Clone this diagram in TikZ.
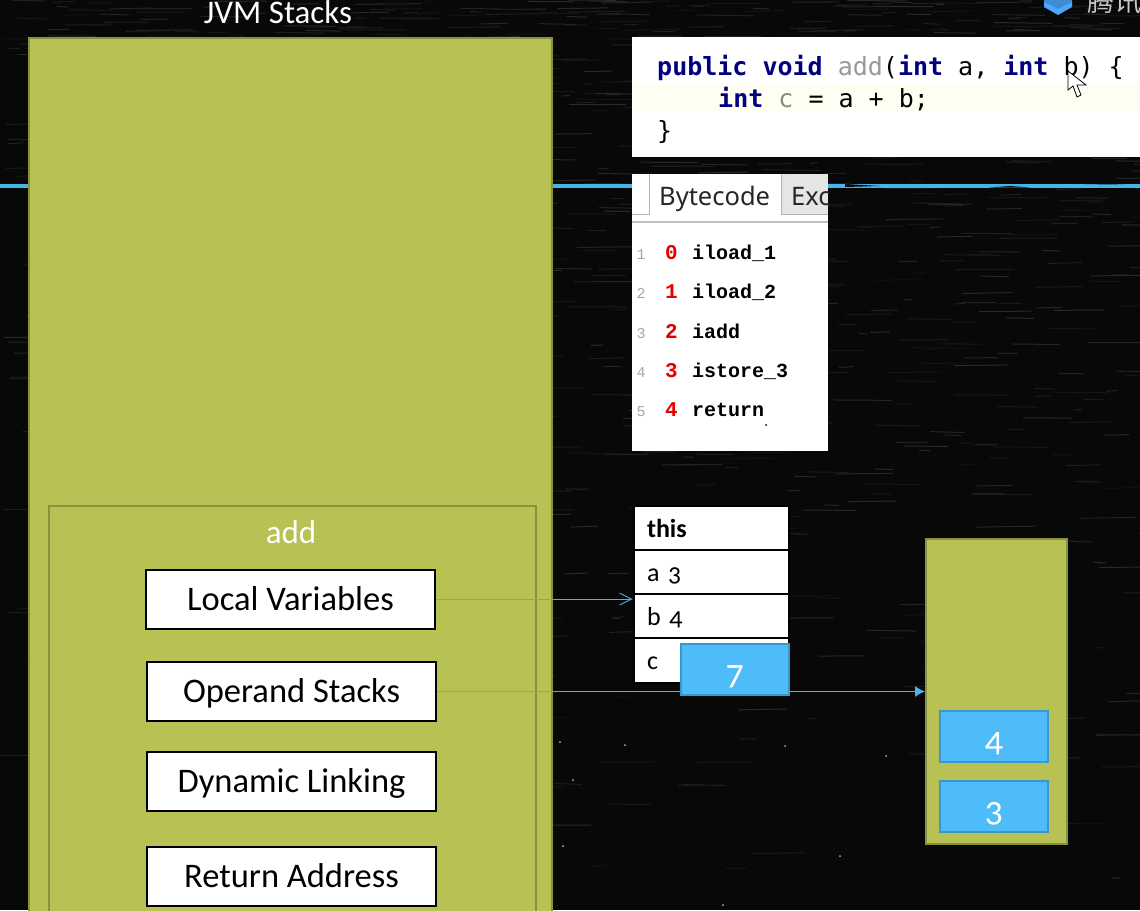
\documentclass[tikz,border=0pt]{standalone}
\usepackage{fontspec}
\setmainfont[Numbers=OldStyle]{Carlito}
\setmonofont{DejaVu Sans Mono}
\newfontfamily\bcfont{Liberation Mono}
\newfontfamily\tabfont{Noto Sans}
\newfontfamily\cjk{Noto Sans CJK SC}
\usetikzlibrary{arrows.meta}
\definecolor{boardbg}{HTML}{080808}
\definecolor{streak}{HTML}{2A2A2A}
\definecolor{olive}{HTML}{B8C153}
\definecolor{oliveline}{HTML}{89913A}
\definecolor{skyblue}{HTML}{4DBCF9}
\definecolor{skyline}{HTML}{3A98C8}
\definecolor{arrowblue}{HTML}{45B4E6}
\definecolor{kwblue}{HTML}{000080}
\definecolor{hilite}{HTML}{FFFEF2}
\newcommand{\fs}[1]{\fontsize{#1}{#1}\selectfont}
\tikzset{
	stackarea/.style = {draw = oliveline, fill = olive, line width = 2pt, inner sep = 0pt, anchor = north west},
	methodbox/.style = {draw = black, fill = white, line width = 2pt, minimum width = 289, minimum height = 59, inner sep = 0pt, font = \fs{34.5}, text height = 30, text depth = 8},
	slotrow/.style = {draw = black, fill = white, line width = 2pt, minimum width = 155, minimum height = 45, inner sep = 0pt, inner xsep = 13, text width = 128, align = left, font = \fs{26}, text height = 24, text depth = 6},
	valuebox/.style = {draw = skyline, fill = skyblue, line width = 1.5pt, minimum width = 108, minimum height = 51, inner sep = 0pt, text = white, font = \fs{36}, text height = 30, text depth = 0},
	whitepanel/.style = {fill = white, inner sep = 0pt, anchor = north west},
	codeline/.style = {anchor = base west, inner sep = 0pt, font = \ttfamily\fs{25}},
	bcline/.style = {anchor = base west, inner sep = 0pt, font = \bcfont\bfseries\fs{20}},
	bcnum/.style = {anchor = base west, inner sep = 0pt, font = \bcfont\bfseries\fs{21}, text = red!90!black},
	bcgutter/.style = {anchor = base, inner sep = 0pt, font = \bcfont\fs{15}, text = gray!70},
	refline/.style = {draw = arrowblue, line width = 0.9pt}
}
\begin{document}
\begin{tikzpicture}[x = 1pt, y = -1pt]
	\useasboundingbox (0, 0) rectangle (1140, 910);
	\clip (0, 0) rectangle (1140, 910);
	% Tafel
	\fill [boardbg] (0, 0) rectangle (1140, 910);
	\pgfmathsetseed{4711}
	\foreach \i in {1, ..., 1100} {
		\pgfmathsetmacro{\sx}{random(0, 1140)}
		\pgfmathsetmacro{\sy}{910 * rnd * rnd}
		\pgfmathsetmacro{\sl}{random(8, 60)}
		\pgfmathsetmacro{\sk}{random(25, 100)}
		\draw [streak!\sk!boardbg, line width = 1pt] (\sx, \sy) --++ (\sl, {rnd*2 - 1});
	}
	\foreach \sx/\sy in {560/742, 573/780, 625/745, 785/746, 886/756, 1000/622, 840/856, 563/846, 723/905} {
		\fill [gray!60] (\sx, \sy) circle (1);
	}
	% blue line
	\fill [arrowblue] (0, 183.5) rectangle (1140, 187.5);
	\fill [boardbg] (845, 184) -- (880, 186) -- (845, 187) -- cycle;
	\fill [boardbg] (990, 187.5) -- (1010, 186) -- (1030, 187.5) -- cycle;
	\fill [boardbg] (1060, 183.5) -- (1110, 184.5) -- (1140, 183.5) -- cycle;
	% Linker Kasten
	\node [stackarea, minimum width = 523, minimum height = 900] (jvmstack) at (28, 37) {};
	\node [text = white, font = \fs{33}, inner sep = 0pt] (jvmtitle) at (278, 12) {JVM Stacks};
	\node [stackarea, minimum width = 487, minimum height = 430] (frame) at (48, 505) {};
	\node [text = white, font = \fs{33}, inner sep = 0pt] (frametitle) at (291, 532) {add};
	\node [methodbox] (locvars) at (290.5, 599) {Local Variables};
	\node [methodbox] (opstack) at (291.5, 691.5) {Operand Stacks};
	\node [methodbox] (dynlink) at (291.5, 781.5) {Dynamic Linking};
	\node [methodbox] (retaddr) at (291.5, 876.5) {Return Address};
	% Code
	\node [whitepanel, minimum width = 520, minimum height = 120] (codepanel) at (632, 37) {};
	\fill [hilite] (632, 83) rectangle (1140, 111);
	\node [codeline] (code1) at (657, 75) {\textbf{\textcolor{kwblue}{public void}} \textcolor{gray!80}{add}(\textbf{\textcolor{kwblue}{int}} a, \textbf{\textcolor{kwblue}{int}} b) \{};
	\node [codeline] (code2) at (718, 107) {\textbf{\textcolor{kwblue}{int}} \textcolor{gray!80!olive}{c} = a + b;};
	\node [codeline] (code3) at (657, 139) {\}};
	% Mauszeiger
	\draw [black, fill = white, line width = 0.8pt] (1068, 71) -- (1068, 90) -- (1073, 86) -- (1077, 97) -- (1081, 95) -- (1077, 85) -- (1086, 85) -- cycle;
	% Logo
	\fill [cyan!60!blue!80!white] (1044, -2) -- (1072, -2) -- (1072, 4) -- (1058, 11) -- (1044, 4) -- cycle;
	\fill [blue!50!cyan!70!white] (1044, 2) -- (1058, 9) -- (1072, 2) -- (1072, 7) -- (1058, 15) -- (1044, 7) -- cycle;
	\node [text = gray!45, font = \cjk\fs{27}, anchor = west, inner sep = 0pt] (logotext) at (1087, 1) {腾讯};
	% Bytecode
	\node [whitepanel, minimum width = 196, minimum height = 277] (bcpanel) at (632, 174) {};
	\fill [gray!20] (782, 174) rectangle (828, 214);
	\draw [gray!60, line width = 1pt] (632, 214) -- (649.5, 214) -- (649.5, 174);
	\draw [gray!60, line width = 1pt] (828, 214) -- (781.5, 214) -- (781.5, 174);
	\draw [gray!50, line width = 1.5pt] (632, 222) -- (828, 222);
	\node [anchor = base west, inner sep = 0pt, font = \tabfont\fs{25.5}, text = black!85] (bctab) at (659, 205) {Bytecode};
	\begin{scope}
		\clip (782, 174) rectangle (828, 214);
		\node [anchor = base west, inner sep = 0pt, font = \tabfont\fs{25.5}, text = black!85] (exctab) at (791, 205) {Exc};
	\end{scope}
	\foreach \n/\op [count = \c from 0] in {1/iload\_1, 2/iload\_2, 3/iadd, 4/istore\_3, 5/return} {
		\pgfmathsetmacro{\ly}{259.5 + 39.3 * \c}
		\node [bcgutter] (gut\c) at (641, \ly) {\n};
		\node [bcnum] (num\c) at (665, \ly) {\c};
		\node [bcline] (op\c) at (692, \ly) {\op};
	}
	\fill [black] (766, 425) circle (1);
	% Lokale Variablen
	\node [slotrow, font = \bfseries\fs{26}] (rowthis) at (711, 528) {this};
	\node [slotrow] (rowa) at (711, 572) {a 3};
	\node [slotrow] (rowb) at (711, 616) {b 4};
	\node [slotrow] (rowc) at (711, 660) {c};
	% Rechter Kasten
	\node [stackarea, minimum width = 141, minimum height = 305] (opbox) at (925, 538) {};
	\node [valuebox] (val4) at (994, 736.5) {4};
	\node [valuebox] (val3) at (994, 806.5) {3};
	% Linien
	\draw [refline, -{Straight Barb[length = 12, width = 12]}] (locvars.east) -- (locvars.east -| rowb.west);
	\draw [refline, -{Latex[length = 10, width = 11]}] (opstack.east) -- (opstack.east -| opbox.west);
	\node [valuebox] (val7) at (735, 669.5) {7};
\end{tikzpicture}
\end{document}
